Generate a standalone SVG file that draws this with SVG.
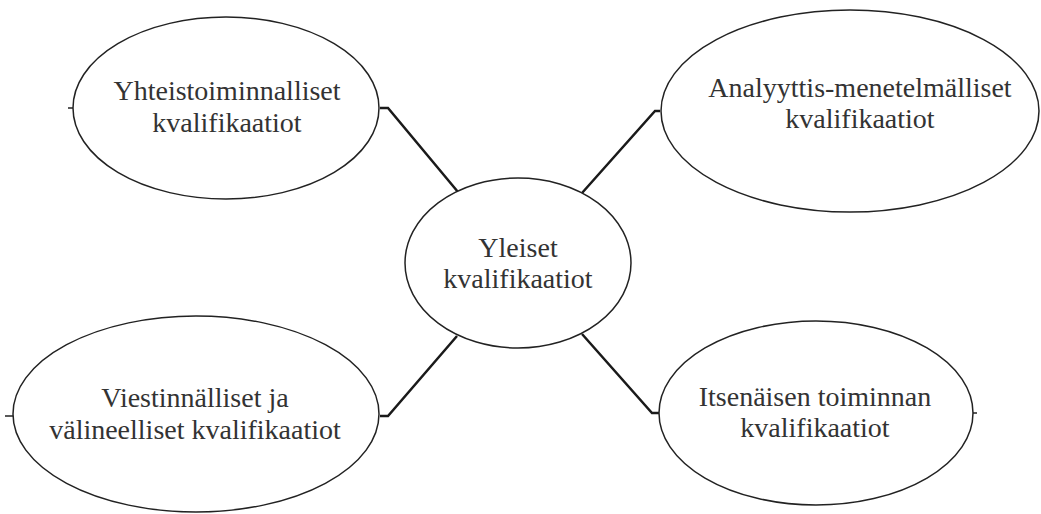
<svg xmlns="http://www.w3.org/2000/svg" width="1041" height="514" viewBox="0 0 1041 514">
<style>
.node ellipse{fill:#fff;stroke:#222;stroke-width:1.5}
.tick{stroke:#222;stroke-width:1.5;fill:none}
.conn path{fill:none;stroke:#1a1a1a;stroke-width:2.5}
text{font-family:"Liberation Serif","Times New Roman",serif;font-size:28px;fill:#333;text-anchor:middle}
</style>
<rect width="1041" height="514" fill="#fff"/>
<g id="connectors" class="conn">
<path d="M380,108 H388 L458,192"/>
<path d="M660,111 H655 L582,193"/>
<path d="M380,416 H388 L457,336"/>
<path d="M660,413 H652 L582,334"/>
</g>
<g id="n-center" class="node">
<ellipse cx="518" cy="263" rx="113" ry="85"/>
<text x="518" y="257">Yleiset</text>
<text x="518" y="288">kvalifikaatiot</text>
</g>
<g id="n-topleft" class="node">
<path class="tick" d="M68,108 H73"/>
<ellipse cx="226" cy="108" rx="153" ry="91"/>
<text x="227" y="100">Yhteistoiminnalliset</text>
<text x="227" y="132">kvalifikaatiot</text>
</g>
<g id="n-topright" class="node">
<ellipse cx="850" cy="111" rx="189" ry="101"/>
<text x="860" y="97">Analyyttis-menetelmälliset</text>
<text x="860" y="128">kvalifikaatiot</text>
</g>
<g id="n-bottomleft" class="node">
<path class="tick" d="M5,416 H13"/>
<ellipse cx="196" cy="414" rx="183" ry="98"/>
<text x="195" y="407">Viestinnälliset ja</text>
<text x="195" y="439">välineelliset kvalifikaatiot</text>
</g>
<g id="n-bottomright" class="node">
<path class="tick" d="M973,413 H977"/>
<ellipse cx="816" cy="413" rx="157" ry="92"/>
<text x="815" y="406">Itsenäisen toiminnan</text>
<text x="815" y="437">kvalifikaatiot</text>
</g>
</svg>
